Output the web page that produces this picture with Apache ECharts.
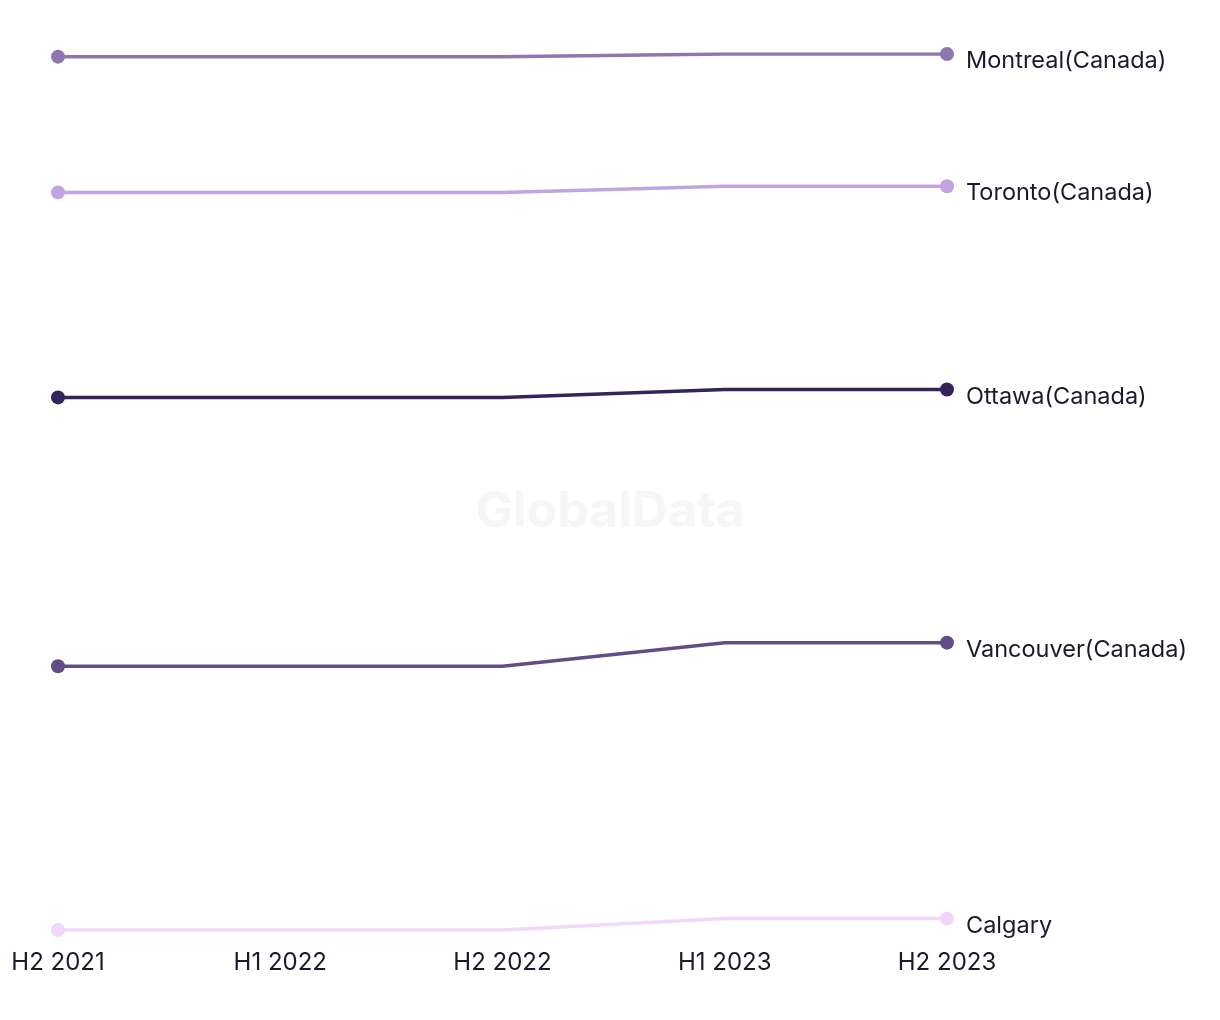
<!DOCTYPE html>
<html>
<head>
<meta charset="utf-8">
<script src="https://cdn.jsdelivr.net/npm/echarts@6/dist/echarts.min.js"></script>
<style>
html,body{margin:0;padding:0;background:#fff;}
#main{width:1220px;height:1020px;}
</style>
</head>
<body>
<div id="main"></div>
<script>
const categories = ['H2 2021', 'H1 2022', 'H2 2022', 'H1 2023', 'H2 2023'];
const seriesNames = ['Montreal(Canada)', 'Toronto(Canada)', 'Ottawa(Canada)', 'Vancouver(Canada)', 'Calgary'];
const montreal = [99.7, 99.7, 99.7, 100.0, 100.0];
const toronto = [84.2, 84.2, 84.2, 84.9, 84.9];
const ottawa = [60.8, 60.8, 60.8, 61.7, 61.7];
const vancouver = [30.1, 30.1, 30.1, 32.8, 32.8];
const calgary = [0.0, 0.0, 0.0, 1.3, 1.3];
const seriesValues = [montreal, toronto, ottawa, vancouver, calgary];
const colors = ['#8D77B0', '#C1A5E3', '#35245A', '#624D87', '#F1D8FA'];

const chart = echarts.init(document.getElementById('main'));
const font = 'Inter, "Noto Sans", sans-serif';
chart.setOption({
  backgroundColor: '#ffffff',
  animation: false,
  graphic: [{
    type: 'text',
    left: 'center',
    top: 487,
    silent: true,
    z: 0,
    style: {
      text: 'GlobalData',
      fontFamily: font,
      fontWeight: 'bold',
      fontSize: 50,
      fill: '#f6f6f6'
    }
  }],
  grid: { left: 58, right: 273, top: 54, bottom: 90, containLabel: false },
  xAxis: {
    type: 'category',
    data: categories,
    boundaryGap: false,
    axisLine: { show: false },
    axisTick: { show: false },
    splitLine: { show: false },
    axisLabel: {
      color: '#1a1a2e',
      fontFamily: font,
      fontSize: 24,
      margin: 21
    }
  },
  yAxis: {
    type: 'value',
    min: 0,
    max: 100,
    show: false,
    splitLine: { show: false }
  },
  series: seriesNames.map((name, i) => ({
    name: name,
    type: 'line',
    data: seriesValues[i],
    symbolSize: 14,
    showSymbol: true,
    itemStyle: { color: colors[i] },
    lineStyle: { color: colors[i], width: 3.5 },
    symbol: function (v, p) { return (p.dataIndex === 0 || p.dataIndex === categories.length - 1) ? 'circle' : 'none'; },
    z: 3,
    endLabel: {
      show: true,
      formatter: '{a}',
      color: '#1a1a2e',
      fontFamily: font,
      fontSize: 23.5,
      distance: 19,
      offset: [0, 7]
    }
  }))
});
</script>
</body>
</html>
